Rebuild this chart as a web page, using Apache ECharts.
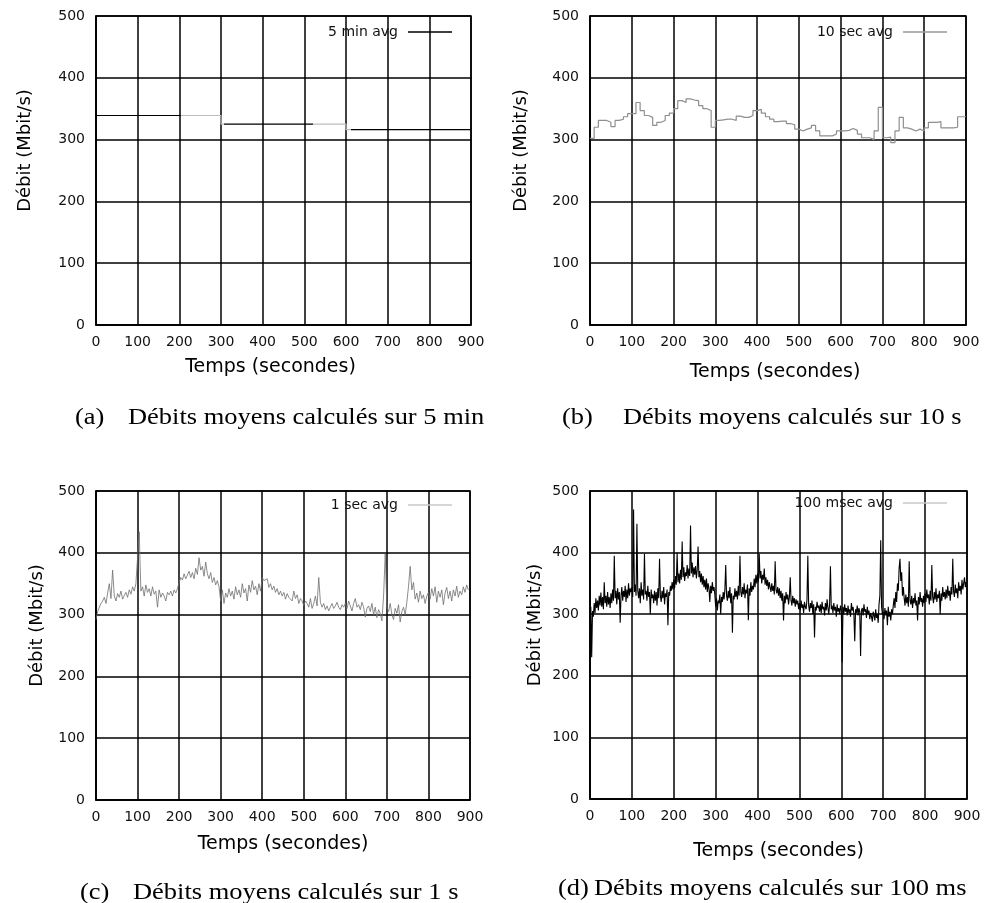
<!DOCTYPE html>
<html>
<head>
<meta charset="utf-8">
<title>Débits moyens</title>
<script src="https://cdn.jsdelivr.net/npm/echarts@6/dist/echarts.min.js"></script>
<style>
  html, body { margin: 0; padding: 0; background: #fff; }
  #chart { width: 984px; height: 903px; }
</style>
</head>
<body>
<div id="chart"></div>
<script>
// axis ticks shared by the four panels
const timeTicks = [0, 100, 200, 300, 400, 500, 600, 700, 800, 900];
const rateTicks = [0, 100, 200, 300, 400, 500];

// (a) 5 min averages: start of each window and its rate
const avg5minStart = [0, 300, 600];
const avg5minRate = [339, 325, 316];

// (b) 10 sec averages, one value per 10 s window
const avg10sStep = 10;
const avg10sRate = [
  302, 320, 331, 331, 328, 321, 331, 333, 337, 342,
  342, 360, 347, 339, 336, 323, 328, 331, 339, 343,
  350, 363, 360, 366, 364, 363, 355, 350, 347, 320,
  331, 332, 333, 333, 331, 338, 336, 336, 339, 347,
  349, 343, 337, 333, 329, 330, 330, 326, 324, 317,
  314, 317, 319, 323, 314, 306, 306, 306, 309, 314,
  314, 315, 318, 315, 309, 303, 303, 300, 314, 352,
  303, 304, 295, 314, 336, 319, 317, 314, 317, 314,
  319, 328, 328, 329, 319, 319, 319, 320, 337, 337
];

const avg1sStep = 4;
const avg1sRate = [
  292, 305, 312, 318, 322, 328, 318, 335, 350, 326, 372, 330, 322, 334, 328, 338, 325, 331, 336, 328, 340, 333, 345, 338, 350,
  352, 434, 338, 345, 330, 348, 336, 342, 330, 345, 333, 338, 312, 340, 328, 335, 330, 322, 336, 332, 338, 330, 340, 335, 342,
  352, 360, 356, 366, 358, 364, 370, 360, 368, 358, 375, 365, 392, 372, 378, 362, 385, 366, 358, 368, 352, 360, 348, 355, 345,
  322, 340, 318, 335, 328, 342, 330, 338, 325, 345, 332, 340, 328, 350, 335, 342, 322, 348, 336, 355, 340, 346, 332, 350, 338,
  360, 355, 352, 358, 344, 350, 340, 346, 336, 342, 332, 338, 330, 336, 325, 334, 328, 330, 322, 338, 326, 332, 318, 326, 322,
  315, 322, 318, 312, 326, 310, 318, 330, 314, 360, 320, 312, 318, 308, 314, 306, 312, 318, 310, 314, 320, 312, 308, 316, 312,
  318, 310, 322, 314, 306, 318, 326, 312, 316, 308, 320, 312, 296, 310, 314, 305, 318, 300, 312, 295, 308, 302, 290, 330, 398,
  312, 305, 318, 300, 292, 310, 302, 316, 288, 305, 312, 300, 320, 345, 378, 340, 352, 325, 335, 320, 338, 326, 332, 318, 330,
  336, 325, 342, 330, 345, 320, 338, 328, 340, 316, 335, 344, 326, 338, 322, 340, 330, 346, 328, 338, 332, 345, 336, 348, 340
];

const avg100msStep = 2;
const avg100msRate = [
  288, 312, 230, 305, 296, 318, 302, 326, 310, 322, 306, 330, 314, 335, 312, 328, 308, 352, 318, 330, 312, 336, 316, 328, 310,
  334, 318, 340, 322, 395, 326, 338, 316, 342, 324, 336, 286, 330, 344, 322, 338, 328, 346, 320, 340, 326, 350, 330, 342, 336,
  344, 328, 470, 336, 348, 330, 447, 338, 326, 342, 318, 352, 330, 340, 324, 398, 332, 338, 322, 346, 328, 336, 300, 340, 326,
  332, 318, 338, 322, 336, 314, 342, 326, 390, 330, 320, 338, 326, 344, 316, 334, 328, 340, 282, 336, 330, 346, 338, 352, 340,
  356, 342, 362, 348, 400, 352, 366, 350, 372, 356, 418, 360, 376, 354, 368, 362, 380, 358, 374, 362, 444, 366, 384, 360, 376,
  364, 378, 358, 372, 410, 360, 370, 352, 366, 348, 362, 344, 356, 340, 358, 336, 350, 342, 320, 346, 334, 352, 338, 344, 332,
  312, 326, 306, 322, 318, 332, 300, 328, 320, 336, 324, 340, 380, 330, 322, 338, 326, 344, 318, 334, 270, 330, 324, 342, 328,
  338, 324, 346, 330, 395, 336, 328, 344, 332, 350, 326, 340, 334, 348, 290, 342, 330, 352, 336, 346, 340, 358, 344, 364, 350,
  366, 352, 398, 358, 370, 350, 364, 356, 374, 348, 360, 346, 356, 340, 352, 344, 336, 350, 338, 346, 332, 386, 340, 334, 344,
  330, 342, 326, 338, 322, 334, 290, 330, 318, 336, 324, 332, 316, 328, 360, 322, 314, 330, 318, 326, 312, 324, 316, 322, 308,
  318, 306, 322, 310, 316, 302, 320, 312, 308, 324, 395, 314, 304, 318, 310, 322, 300, 316, 262, 312, 306, 320, 310, 314, 304,
  316, 302, 320, 308, 312, 298, 318, 306, 324, 310, 300, 316, 378, 308, 314, 302, 318, 306, 312, 296, 316, 304, 310, 300, 314,
  306, 222, 312, 300, 316, 304, 310, 298, 314, 302, 308, 296, 318, 306, 312, 300, 256, 308, 302, 314, 298, 310, 304, 232, 306,
  310, 298, 316, 304, 308, 294, 312, 300, 306, 292, 302, 296, 288, 304, 298, 290, 308, 294, 300, 286, 316, 330, 420, 312, 300,
  304, 292, 310, 298, 306, 282, 312, 296, 304, 290, 308, 300, 314, 326, 310, 336, 320, 350, 338, 375, 390, 354, 368, 330, 344,
  326, 314, 332, 318, 328, 312, 386, 322, 316, 330, 310, 326, 318, 334, 314, 322, 290, 328, 316, 336, 320, 326, 312, 330, 318,
  334, 320, 340, 326, 332, 316, 338, 322, 380, 328, 318, 336, 324, 342, 320, 332, 326, 338, 300, 334, 322, 344, 328, 336, 324,
  340, 326, 346, 330, 338, 322, 344, 332, 390, 336, 328, 348, 334, 342, 326, 352, 338, 346, 332, 356, 340, 350, 360, 344, 352
];

const seriesNames = ['5 min avg', '10 sec avg', '1 sec avg', '100 msec avg'];
const captionTags = ['(a)', '(b)', '(c)', '(d)'];
const captionTexts = [
  'Débits moyens calculés sur 5 min',
  'Débits moyens calculés sur 10 s',
  'Débits moyens calculés sur 1 s',
  'Débits moyens calculés sur 100 ms'
];

const sans = 'DejaVu Sans';
const serif = 'Liberation Serif';
const tMin = timeTicks[0], tMax = timeTicks[timeTicks.length - 1];

// layout of the four panels
const panels = [
  { left: 96,  top: 16,  width: 375, height: 309, xGap: 33, xShift: 26, yGap: 62, legTop: 25,  legRight: 532, cap: [75, 128, 418] },
  { left: 590, top: 16,  width: 376, height: 309, xGap: 38, xShift: 6,  yGap: 60, legTop: 25,  legRight: 37,  cap: [562, 623, 418] },
  { left: 96,  top: 491, width: 374, height: 309, xGap: 35, xShift: 0,  yGap: 50, legTop: 498, legRight: 532, cap: [80, 133, 893] },
  { left: 590, top: 491, width: 377, height: 308, xGap: 43, xShift: 0,  yGap: 46, legTop: 496, legRight: 37,  cap: [558, 594, 889] }
];
const legendColors = ['#000', '#9a9a9a', '#c8c8c8', '#c8c8c8'];

function points(values, step) {
  return values.map((v, i) => [tMin + i * step, v]);
}
function stepPoints(starts, values) {
  const pts = starts.map((x, i) => [x, values[i]]);
  pts.push([tMax, values[values.length - 1]]);
  return pts;
}

const grid = panels.map(p => ({
  left: p.left, top: p.top, width: p.width, height: p.height,
  show: true, borderColor: '#000', borderWidth: 1.5
}));

const xAxis = panels.map((p, i) => ({
  gridIndex: i,
  type: 'value',
  min: tMin,
  max: tMax,
  interval: timeTicks[1] - timeTicks[0],
  name: 'Temps (secondes)',
  nameLocation: 'middle',
  nameGap: p.xGap,
  nameTextStyle: { fontFamily: sans, fontSize: 19, color: '#000', padding: [0, p.xShift, 0, 0] },
  axisLine: { show: true, onZero: false, lineStyle: { color: '#000', width: 1.5 } },
  axisTick: { show: false },
  axisLabel: { fontFamily: sans, fontSize: 14, color: '#111', margin: 10 },
  splitLine: { show: true, lineStyle: { color: '#000', width: 1.5 } }
}));

const yAxis = panels.map((p, i) => ({
  gridIndex: i,
  type: 'value',
  min: rateTicks[0],
  max: rateTicks[rateTicks.length - 1],
  interval: rateTicks[1] - rateTicks[0],
  name: 'Débit (Mbit/s)',
  nameLocation: 'middle',
  nameGap: p.yGap,
  nameTextStyle: { fontFamily: sans, fontSize: 18, color: '#000', padding: [0, 0, 0, 40] },
  axisLine: { show: true, onZero: false, lineStyle: { color: '#000', width: 1.5 } },
  axisTick: { show: false },
  axisLabel: { fontFamily: sans, fontSize: 14, color: '#111', margin: 11 },
  splitLine: { show: true, lineStyle: { color: '#000', width: 1.5 } }
}));

const series = [
  {
    // colour comes from the visualMap below
    name: seriesNames[0], type: 'line', step: 'end', xAxisIndex: 0, yAxisIndex: 0,
    symbol: 'none', lineStyle: { width: 1.2 },
    data: stepPoints(avg5minStart, avg5minRate)
  },
  {
    name: seriesNames[1], type: 'line', step: 'end', xAxisIndex: 1, yAxisIndex: 1,
    symbol: 'none', lineStyle: { color: '#8f8f8f', width: 1.2 },
    data: stepPoints(avg10sRate.map((v, i) => tMin + i * avg10sStep), avg10sRate)
  },
  {
    name: seriesNames[2], type: 'line', xAxisIndex: 2, yAxisIndex: 2,
    symbol: 'none', lineStyle: { color: '#6e6e6e', width: 0.8 },
    data: points(avg1sRate, avg1sStep)
  },
  {
    name: seriesNames[3], type: 'line', xAxisIndex: 3, yAxisIndex: 3,
    symbol: 'none', lineStyle: { color: '#000', width: 1.1 },
    data: points(avg100msRate, avg100msStep)
  }
];

const legend = panels.map((p, i) => ({
  data: [{ name: seriesNames[i], icon: 'rect', itemStyle: { color: legendColors[i] } }],
  right: p.legRight,
  top: p.legTop,
  align: 'right',
  padding: 0,
  itemWidth: 44,
  itemHeight: 1.5,
  selectedMode: false,
  textStyle: { fontFamily: sans, fontSize: 14, color: '#111', padding: [0, 5, 0, 0] }
}));

const graphic = [];
panels.forEach((p, i) => {
  graphic.push({
    type: 'text', x: p.cap[0], y: p.cap[2], scaleX: 1.15,
    style: { text: captionTags[i], fontFamily: serif, fontSize: 23, fill: '#000', verticalAlign: 'middle' }
  });
  graphic.push({
    type: 'text', x: p.cap[1], y: p.cap[2], scaleX: 1.15,
    style: { text: captionTexts[i], fontFamily: serif, fontSize: 23, fill: '#000', verticalAlign: 'middle' }
  });
});

const chart = echarts.init(document.getElementById('chart'));
chart.setOption({
  backgroundColor: '#fff',
  animation: false,
  grid: grid,
  xAxis: xAxis,
  yAxis: yAxis,
  legend: legend,
  // the 5 min trace is drawn lighter over part of each window in the original
  visualMap: {
    type: 'piecewise',
    show: false,
    seriesIndex: 0,
    dimension: 0,
    pieces: [
      { lt: 205, color: '#000' },
      { gte: 205, lt: 308, color: '#bdbdbd' },
      { gte: 308, lt: 520, color: '#000' },
      { gte: 520, lt: 612, color: '#bdbdbd' },
      { gte: 612, color: '#000' }
    ]
  },
  series: series,
  graphic: graphic
});
</script>
</body>
</html>
